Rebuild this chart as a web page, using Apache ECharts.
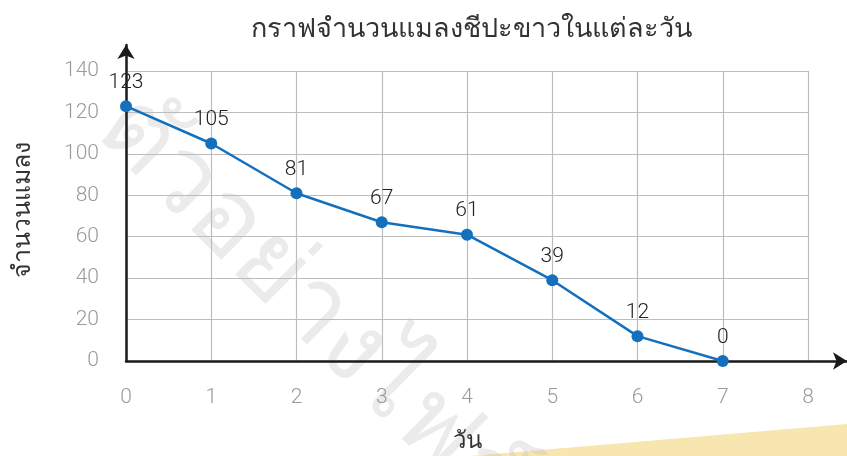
<!DOCTYPE html>
<html>
<head>
<meta charset="utf-8">
<script src="https://cdn.jsdelivr.net/npm/echarts@6/dist/echarts.min.js"></script>
<style>
  html, body { margin: 0; padding: 0; background: #fff; }
  #chart { width: 847px; height: 456px; }
</style>
</head>
<body>
<div id="chart"></div>
<script>
// data
const days = [0, 1, 2, 3, 4, 5, 6, 7]
const insects = [123, 105, 81, 67, 61, 39, 12, 0]

const chart = echarts.init(document.getElementById('chart'))
const numFont = 'Roboto, "Liberation Sans", Arial, sans-serif'
const thaiFont = '"Liberation Sans", Arial, sans-serif'
const tickColor = '#9a9a9a'

const option = {
  backgroundColor: '#fff',
  title: {
    text: 'กราฟจำนวนแมลงชีปะขาวในแต่ละวัน',
    left: 466,
    textAlign: 'center',
    top: 11,
    textStyle: { fontFamily: thaiFont, fontSize: 27, fontWeight: 300, color: '#333' }
  },
  graphic: [
    {
      type: 'polygon',
      silent: true,
      z: -10,
      shape: { points: [[470, 456], [847, 424], [847, 456]] },
      style: { fill: '#f8e6b0' }
    },
    {
      type: 'text',
      silent: true,
      z: -5,
      x: 150,
      y: 75,
      rotation: -0.78,
      style: {
        text: 'ตัวอย่างไฟล์',
        fontSize: 105,
        fontFamily: thaiFont,
        fontWeight: 300,
        fill: 'rgba(190,190,190,0.3)'
      }
    }
  ],
  grid: [
    { left: 126, top: 71, width: 682, height: 290, outerBoundsMode: 'none' },
    { left: 126, top: 45, width: 721, height: 316, outerBoundsMode: 'none' }
  ],
  xAxis: [
    {
      type: 'value',
      gridIndex: 0,
      min: 0,
      max: 8,
      interval: 1,
      name: 'วัน',
      nameLocation: 'middle',
      nameGap: 68,
      nameTextStyle: { fontFamily: thaiFont, fontSize: 24, fontWeight: 300, color: '#333' },
      axisLine: { show: false },
      axisTick: { show: false },
      axisLabel: { margin: 26, fontFamily: numFont, fontSize: 21, fontWeight: 300, color: tickColor },
      splitLine: { show: true, lineStyle: { color: '#bdbdbd', width: 1.2 } }
    },
    {
      type: 'value',
      gridIndex: 1,
      min: 0,
      max: 1,
      axisLine: {
        show: true,
        symbol: ['none', 'arrow'],
        symbolSize: [13, 14],
        lineStyle: { color: '#1a1a1a', width: 2.5 }
      },
      axisTick: { show: false },
      axisLabel: { show: false },
      splitLine: { show: false }
    }
  ],
  yAxis: [
    {
      type: 'value',
      gridIndex: 0,
      min: 0,
      max: 140,
      interval: 20,
      axisLine: { show: false },
      axisTick: { show: false },
      axisLabel: { margin: 27, fontFamily: numFont, fontSize: 21, fontWeight: 300, color: tickColor },
      splitLine: { show: true, lineStyle: { color: '#bdbdbd', width: 1.2 } }
    },
    {
      type: 'value',
      gridIndex: 1,
      min: 0,
      max: 1,
      name: 'จำนวนแมลง',
      nameLocation: 'middle',
      nameRotate: 90,
      nameGap: 90,
      nameTextStyle: { fontFamily: thaiFont, fontSize: 25, fontWeight: 300, color: '#333', padding: [0, 14, 0, 0] },
      axisLine: {
        show: true,
        symbol: ['none', 'arrow'],
        symbolSize: [13, 14],
        lineStyle: { color: '#1a1a1a', width: 2.5 }
      },
      axisTick: { show: false },
      axisLabel: { show: false },
      splitLine: { show: false }
    }
  ],
  series: [
    {
      type: 'line',
      xAxisIndex: 0,
      yAxisIndex: 0,
      data: days.map((d, i) => [d, insects[i]]),
      symbol: 'circle',
      symbolSize: 12,
      lineStyle: { color: '#1470bd', width: 2.5 },
      itemStyle: { color: '#1470bd' },
      label: {
        show: true,
        position: 'top',
        distance: 7,
        fontFamily: numFont,
        fontSize: 21,
        fontWeight: 300,
        color: '#222',
        formatter: p => p.value[1]
      },
      z: 5
    }
  ]
}

chart.setOption(option)
</script>
</body>
</html>
